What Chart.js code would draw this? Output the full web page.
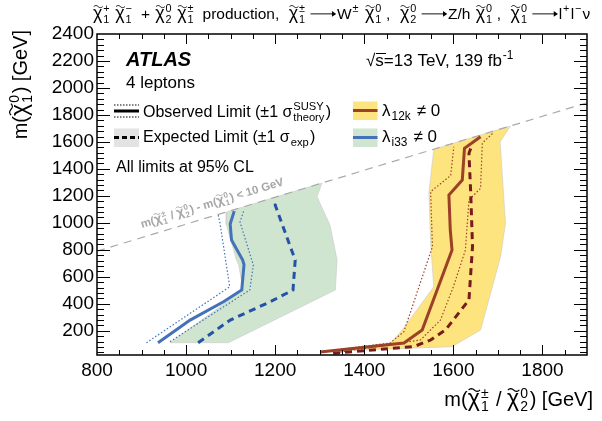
<!DOCTYPE html>
<html lang="en">
<head>
<meta charset="UTF-8">
<title>RPV 4 leptons limits</title>
<script src="https://cdn.jsdelivr.net/npm/chart.js"></script>
<style>
  body { margin: 0; background: #fff; }
  canvas { display: block; }
</style>
</head>
<body>
<canvas id="limits" width="602" height="421"></canvas>
<script>
// axis tick labels
const xTicks = [800, 1000, 1200, 1400, 1600, 1800];
const yTicks = [200, 400, 600, 800, 1000, 1200, 1400, 1600, 1800, 2000, 2200, 2400];

// kinematic limit  m(chi1+/chi20) - m(chi10) = 10 GeV
const diagX = [800, 1900];
const diagY = [790, 1890];

// lambda_i33 != 0  (blue / green)
const i33ObsX = [937, 1009, 1084, 1125, 1130, 1127, 1102, 1099, 1108];
const i33ObsY = [111, 279, 415, 502, 690, 724, 872, 991, 1087];
const i33ObsUpX = [964, 1036, 1143, 1151, 1121, 1130];
const i33ObsUpY = [119, 274, 502, 687, 1006, 1095];
const i33ObsDnX = [911, 1098, 1076, 1072];
const i33ObsDnY = [111, 526, 1000, 1060];
const i33ExpX = [1027, 1099, 1189, 1240, 1245, 1234, 1200, 1209];
const i33ExpY = [111, 279, 415, 502, 724, 823, 1132, 1169];
const i33BandX = [1091, 1090, 1113, 1118, 1128, 964, 1095, 1335, 1339, 1323, 1294, 1305, 1091];
const i33BandY = [1081, 990, 724, 690, 502, 111, 111, 502, 724, 984, 1193, 1295, 1081];

// lambda_12k != 0  (brown / yellow)
const l12kObsX = [1301, 1489, 1530, 1597, 1593, 1590, 1620, 1625, 1661];
const l12kObsY = [42, 109, 205, 798, 950, 1206, 1317, 1552, 1638];
const l12kObsUpX = [1346, 1526, 1571, 1600, 1627, 1635, 1661, 1665, 1691];
const l12kObsUpY = [42, 131, 279, 526, 798, 1169, 1256, 1591, 1672];
const l12kObsDnX = [1301, 1458, 1489, 1553, 1549, 1594, 1601];
const l12kObsDnY = [42, 109, 193, 823, 1231, 1351, 1564];
const l12kExpX = [1330, 1511, 1549, 1582, 1635, 1643, 1639, 1635, 1643];
const l12kExpY = [33, 82, 131, 205, 428, 823, 1219, 1515, 1589];
const l12kBandX = [1556, 1545, 1549, 1556, 1485, 1459, 1301, 1597, 1661, 1706, 1717, 1705, 1728, 1556];
const l12kBandY = [1546, 1219, 848, 526, 205, 107, 45, 82, 205, 749, 996, 1601, 1718, 1546];

const FONT = '"Liberation Sans", Arial, Helvetica, sans-serif';
const BLUE = '#4372b8', BLUE_DARK = '#2452a6', BROWN = '#9c4127', BROWN_DARK = '#7a1b1b';
const YELLOW = '#fee47e', GREEN = '#cfe5cf';

function pts(xs, ys) {
    return xs.map((v, i) => ({ x: v, y: ys[i] }));
}

function lineSet(xs, ys, color, width, dash, order) {
    return {
        data: pts(xs, ys), showLine: true, pointRadius: 0, fill: false,
        borderColor: color, borderWidth: width, borderDash: dash || [],
        tension: 0, order: order
    };
}

function bandSet(xs, ys, color, order) {
    return {
        data: pts(xs, ys), showLine: true, pointRadius: 0, fill: 'shape',
        backgroundColor: color, borderColor: 'rgba(200,200,200,0.7)', borderWidth: 0.8,
        tension: 0, order: order
    };
}

// ---- small rich-text helper (tilde, sub/superscripts, arrows) ----
function font(size, style) {
    return (style || '') + ' ' + size + 'px ' + FONT;
}

function chi(sb, sp) {
    return { t: 'χ', tilde: true, sb: sb, sp: sp };
}
const ARROW = { arrow: 1.75 };

function drawTilde(ctx, cx, cy, w, size) {
    const a = size * 0.07;
    ctx.beginPath();
    for (let i = 0; i <= 12; i++) {
        const px = cx - w / 2 + w * i / 12;
        const py = cy - a * Math.sin(Math.PI * 2 * i / 12);
        if (i) ctx.lineTo(px, py); else ctx.moveTo(px, py);
    }
    ctx.lineWidth = Math.max(0.9, size * 0.06);
    ctx.strokeStyle = ctx.fillStyle;
    ctx.stroke();
}

function drawArrow(ctx, x1, x2, yy, size) {
    const h = size * 0.18;
    ctx.beginPath();
    ctx.lineWidth = Math.max(0.9, size * 0.06);
    ctx.strokeStyle = ctx.fillStyle;
    ctx.moveTo(x1, yy); ctx.lineTo(x2 - 1, yy);
    ctx.stroke();
    ctx.beginPath();
    ctx.moveTo(x2, yy); ctx.lineTo(x2 - h * 1.5, yy - h); ctx.lineTo(x2 - h * 1.5, yy + h);
    ctx.closePath();
    ctx.fill();
}

// chiPad: extra room around each chi group (ROOT spaces them out more in the title)
function drawRich(ctx, parts, x, y, size, align, style, chiPad) {
    const ss = size * 0.7;
    const pad = chiPad || 0;
    let w = 0;
    const items = parts.map(p => {
        if (typeof p === 'string') p = { t: p };
        const bs = p.tilde ? size * 1.15 : size;
        ctx.font = font(bs, style);
        let bw = p.t ? ctx.measureText(p.t).width : 0;
        if (p.arrow) bw = size * p.arrow;
        ctx.font = font(ss, style);
        const sw = Math.max(p.sb ? ctx.measureText(p.sb).width : 0,
                            p.sp ? ctx.measureText(p.sp).width : 0);
        const pre = p.tilde ? size * pad * 0.3 : 0;
        const it = { p: p, bw: bw, bs: bs, x: w + pre };
        w += pre + bw + sw + (sw ? size * (0.14 + (p.tilde ? pad : 0)) : 0);
        return it;
    });
    const x0 = align === 'right' ? x - w : x;
    ctx.textAlign = 'left';
    ctx.textBaseline = 'alphabetic';
    items.forEach(it => {
        const p = it.p, px = x0 + it.x;
        if (p.t) { ctx.font = font(it.bs, style); ctx.fillText(p.t, px, y); }
        if (p.arrow) drawArrow(ctx, px + size * 0.05, px + it.bw - size * 0.05, y - size * 0.33, size);
        if (p.tilde) drawTilde(ctx, px + it.bw / 2 + size * 0.03, y - size * 0.8, it.bw * 0.95, size);
        ctx.font = font(ss, style);
        if (p.sp) ctx.fillText(p.sp, px + it.bw + size * 0.06, y - size * 0.42);
        if (p.sb) ctx.fillText(p.sb, px + it.bw + size * 0.06, y + size * 0.26);
    });
    return w;
}

function hline(ctx, x1, x2, yy, width, dash, color) {
    ctx.beginPath();
    ctx.setLineDash(dash || []);
    ctx.lineWidth = width;
    ctx.strokeStyle = color;
    ctx.moveTo(x1, yy);
    ctx.lineTo(x2, yy);
    ctx.stroke();
    ctx.setLineDash([]);
}

const atlasDecor = {
    id: 'atlasDecor',
    afterDraw(chart) {
        const { ctx, chartArea: a, scales: { x, y } } = chart;
        ctx.save();

        // inward ticks on all four sides
        ctx.strokeStyle = '#000';
        ctx.lineWidth = 1;
        ctx.beginPath();
        for (let v = 850; v < 1900; v += 50) {
            const px = Math.round(x.getPixelForValue(v)) + 0.5;
            const len = v % 200 === 0 ? 10 : 5;
            ctx.moveTo(px, a.bottom); ctx.lineTo(px, a.bottom - len);
            ctx.moveTo(px, a.top); ctx.lineTo(px, a.top + len);
        }
        for (let v = 40; v < 2400; v += 40) {
            const py = Math.round(y.getPixelForValue(v)) + 0.5;
            const len = v % 200 === 0 ? 13 : 7;
            ctx.moveTo(a.left, py); ctx.lineTo(a.left + len, py);
            ctx.moveTo(a.right, py); ctx.lineTo(a.right - len, py);
        }
        ctx.stroke();
        ctx.lineWidth = 1.5;
        ctx.strokeRect(a.left, a.top, a.right - a.left, a.bottom - a.top);

        ctx.fillStyle = '#000';
        // title
        drawRich(ctx, [chi('1', '+'), chi('1', '−'), ' + ', chi('2', '0'), chi('1', '±'),
            ' production,  ', chi('1', '±'), ARROW, 'W', { sp: '±' }, ' ', chi('1', '0'), ',  ',
            chi('2', '0'), ARROW, 'Z/h ', chi('1', '0'), ',  ', chi('1', '0'), ARROW, 'l', { sp: '+' },
            'l', { sp: '−' }, 'ν'], 92, 19, 15.5, 'left', '', 0.22);

        // axis titles
        drawRich(ctx, ['m(', chi('1', '±'), ' / ', chi('2', '0'), ') [GeV]'], 593, 406, 20, 'right');
        ctx.save();
        ctx.translate(27, 30);
        ctx.rotate(-Math.PI / 2);
        drawRich(ctx, ['m(', chi('1', '0'), ') [GeV]'], 0, 0, 20, 'right');
        ctx.restore();

        // labels
        ctx.font = font(20, 'italic bold');
        ctx.fillText('ATLAS', 126, 66);
        ctx.font = font(17);
        ctx.fillText('4 leptons', 126, 88);
        drawRich(ctx, ['√s=13 TeV, 139 fb', { sp: '-1' }], 366, 66, 17);
        ctx.beginPath();
        ctx.lineWidth = 1;
        ctx.moveTo(376, 53.5); ctx.lineTo(386, 53.5);
        ctx.stroke();

        // legend, left block
        hline(ctx, 114, 139, 105, 1, [1.5, 1.5], '#000');
        hline(ctx, 114, 139, 111, 3, [], '#000');
        hline(ctx, 114, 139, 117, 1, [1.5, 1.5], '#000');
        drawRich(ctx, ['Observed Limit (±1 σ', { sp: 'SUSY', sb: 'theory' }, ')'], 143, 116.5, 16);
        ctx.fillStyle = '#e3e3e3';
        ctx.fillRect(114, 128.5, 25, 18.5);
        hline(ctx, 114, 139, 137.5, 3, [5, 3], '#000');
        ctx.fillStyle = '#000';
        drawRich(ctx, ['Expected Limit (±1 σ', { sb: 'exp' }, ')'], 143, 142, 16);
        ctx.font = font(16);
        ctx.fillText('All limits at 95% CL', 116, 171.5);

        // legend, right block
        ctx.fillStyle = YELLOW;
        ctx.fillRect(353, 101.5, 24.5, 18.5);
        hline(ctx, 353, 377.5, 110.5, 3, [], BROWN);
        ctx.fillStyle = GREEN;
        ctx.fillRect(353, 128.5, 24.5, 18.5);
        hline(ctx, 353, 377.5, 137.5, 3, [], BLUE);
        ctx.fillStyle = '#000';
        drawRich(ctx, ['λ', { sb: '12k' }, ' ≠ 0'], 382, 116, 17);
        drawRich(ctx, ['λ', { sb: 'i33' }, ' ≠ 0'], 382, 142, 17);

        // label on the kinematic limit line
        const p1 = { x: x.getPixelForValue(diagX[0]), y: y.getPixelForValue(diagY[0]) };
        const p2 = { x: x.getPixelForValue(diagX[1]), y: y.getPixelForValue(diagY[1]) };
        const ang = Math.atan2(p2.y - p1.y, p2.x - p1.x);
        ctx.save();
        ctx.translate(x.getPixelForValue(907), y.getPixelForValue(897));
        ctx.rotate(ang);
        ctx.fillStyle = '#a6a6a6';
        drawRich(ctx, ['m(', chi('1', '±'), ' / ', chi('2', '0'), ') - m(', chi('1', '0'), ') < 10 GeV'],
            0, -9, 11.5, 'left', 'bold');
        ctx.restore();

        ctx.restore();
    }
};

new Chart(document.getElementById('limits').getContext('2d'), {
    type: 'scatter',
    data: {
        datasets: [
            lineSet(l12kObsX, l12kObsY, BROWN, 3, [], 1),
            lineSet(i33ObsX, i33ObsY, BLUE, 3, [], 1),
            lineSet(l12kExpX, l12kExpY, BROWN_DARK, 3, [7, 5], 2),
            lineSet(i33ExpX, i33ExpY, BLUE_DARK, 3, [7, 5], 2),
            lineSet(l12kObsUpX, l12kObsUpY, BROWN, 1.2, [1.5, 2], 3),
            lineSet(l12kObsDnX, l12kObsDnY, BROWN, 1.2, [1.5, 2], 3),
            lineSet(i33ObsUpX, i33ObsUpY, BLUE, 1.2, [1.5, 2], 3),
            lineSet(i33ObsDnX, i33ObsDnY, BLUE, 1.2, [1.5, 2], 3),
            lineSet(diagX, diagY, '#aaaaaa', 1.2, [8, 6], 4),
            bandSet(l12kBandX, l12kBandY, YELLOW, 5),
            bandSet(i33BandX, i33BandY, GREEN, 5)
        ]
    },
    options: {
        responsive: false,
        animation: false,
        devicePixelRatio: 1,
        layout: { padding: { top: 34, right: 15, left: 0, bottom: 0 } },
        plugins: { legend: { display: false }, tooltip: { enabled: false } },
        scales: {
            x: {
                type: 'linear', min: 800, max: 1900,
                afterBuildTicks: s => { s.ticks = xTicks.map(v => ({ value: v })); },
                afterFit: s => { s.height = 66; },
                grid: { display: false, drawTicks: false },
                border: { display: false },
                ticks: { font: { family: FONT, size: 19 }, color: '#000', padding: 4, maxRotation: 0,
                         autoSkip: false, callback: v => String(v) }
            },
            y: {
                type: 'linear', min: 20, max: 2400,
                afterBuildTicks: s => { s.ticks = yTicks.map(v => ({ value: v })); },
                afterFit: s => { s.width = 97; },
                grid: { display: false, drawTicks: false },
                border: { display: false },
                ticks: { font: { family: FONT, size: 19 }, color: '#000', padding: 3,
                         autoSkip: false, callback: v => String(v) }
            }
        }
    },
    plugins: [atlasDecor]
});
</script>
</body>
</html>
